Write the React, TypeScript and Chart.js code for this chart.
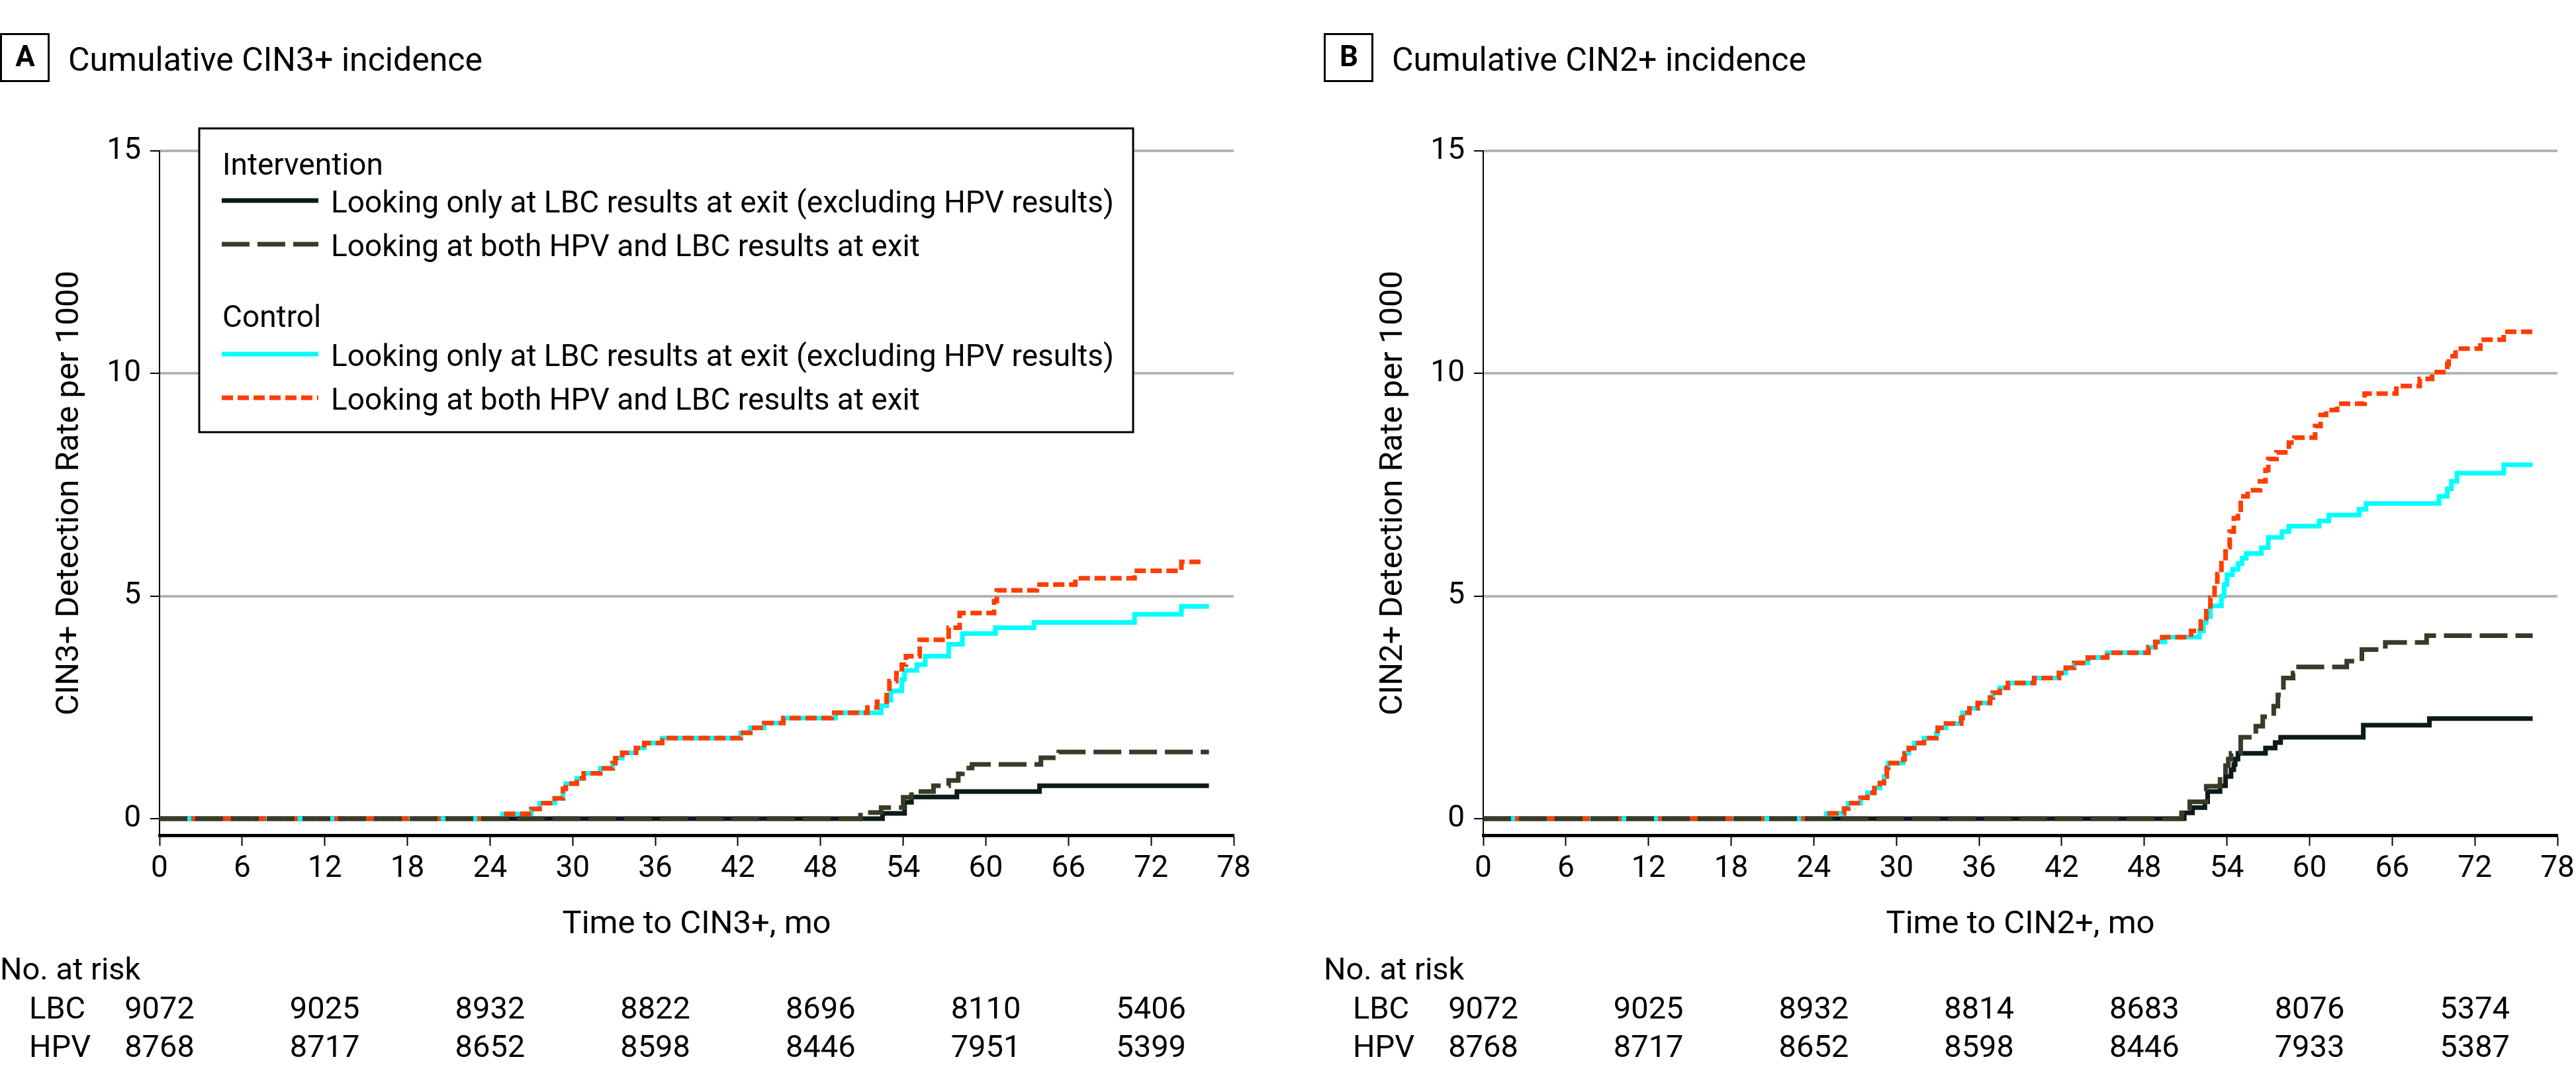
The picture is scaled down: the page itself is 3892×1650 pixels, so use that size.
import React, { useEffect, useRef } from 'react';
import { Chart, registerables } from 'chart.js';

Chart.register(...registerables);

const FONT = 'Roboto, "Noto Sans", sans-serif';

// ---------- data ----------
const X_MIN = 0;
const X_MAX = 78;
const X_STEP = 6;
const Y_MIN = -0.37;
const Y_MAX = 15;
const Y_TICKS = [0, 5, 10, 15];
const RISK_TIMES = [0, 12, 24, 36, 48, 60, 72];

// Panel A: CIN3+
const A_INT_LBC: [number, number][] = [
  [0, 0], [52.5, 0.12], [54.1, 0.37], [54.6, 0.49], [57.9, 0.61], [63.9, 0.74], [76.2, 0.74],
];
const A_INT_BOTH: [number, number][] = [
  [0, 0], [50.9, 0.14], [52.4, 0.25], [54.0, 0.48], [54.6, 0.61], [56.2, 0.74], [57.3, 0.86],
  [58.0, 1.01], [58.3, 1.14], [59.0, 1.22], [64.0, 1.37], [65.3, 1.5], [76.2, 1.5],
];
const A_CTL_LBC: [number, number][] = [
  [0, 0], [24.9, 0.11], [27.0, 0.22], [27.6, 0.35], [28.7, 0.46], [29.3, 0.67], [29.5, 0.79],
  [30.3, 0.91], [30.8, 1.02], [32.0, 1.13], [32.9, 1.25], [33.1, 1.36], [33.6, 1.48], [34.6, 1.59],
  [35.2, 1.7], [36.5, 1.81], [42.2, 1.93], [42.9, 2.04], [43.9, 2.15], [45.3, 2.26], [49.1, 2.38],
  [52.4, 2.54], [52.8, 2.66], [53.1, 2.87], [53.9, 3.13], [54.1, 3.33], [55.0, 3.46], [55.6, 3.65],
  [57.3, 3.92], [58.3, 4.16], [60.7, 4.29], [63.5, 4.41], [70.8, 4.59], [74.2, 4.77], [76.2, 4.77],
];
const A_CTL_BOTH: [number, number][] = [
  [0, 0], [24.9, 0.11], [27.0, 0.22], [27.6, 0.35], [28.7, 0.46], [29.3, 0.67], [29.5, 0.79],
  [30.3, 0.91], [30.8, 1.02], [32.0, 1.13], [32.9, 1.25], [33.1, 1.36], [33.6, 1.48], [34.6, 1.59],
  [35.2, 1.7], [36.5, 1.81], [42.2, 1.93], [42.9, 2.04], [43.9, 2.15], [45.3, 2.26], [48.8, 2.38],
  [51.4, 2.5], [52.1, 2.63], [52.8, 2.87], [53.0, 3.09], [53.5, 3.27], [53.9, 3.46], [54.2, 3.65],
  [55.2, 4.02], [57.3, 4.29], [58.1, 4.62], [60.6, 4.89], [60.8, 5.13], [63.7, 5.26], [66.5, 5.4],
  [70.8, 5.57], [74.2, 5.77], [75.9, 5.77],
];
const A_RISK_LBC = [9072, 9025, 8932, 8822, 8696, 8110, 5406];
const A_RISK_HPV = [8768, 8717, 8652, 8598, 8446, 7951, 5399];

// Panel B: CIN2+
const B_INT_LBC: [number, number][] = [
  [0, 0], [50.9, 0.13], [51.5, 0.25], [52.4, 0.38], [52.6, 0.61], [53.5, 0.74], [53.9, 0.95],
  [54.3, 1.1], [54.5, 1.22], [54.6, 1.34], [54.8, 1.47], [56.8, 1.59], [57.5, 1.71], [57.9, 1.83],
  [63.9, 2.1], [68.7, 2.25], [76.2, 2.25],
];
const B_INT_BOTH: [number, number][] = [
  [0, 0], [50.7, 0.13], [51.3, 0.38], [52.5, 0.73], [53.5, 0.95], [53.9, 1.19], [54.1, 1.34],
  [54.3, 1.47], [55.0, 1.83], [56.1, 2.08], [56.6, 2.29], [57.4, 2.53], [57.7, 2.78], [58.1, 3.16],
  [58.8, 3.27], [59.2, 3.41], [62.7, 3.54], [63.8, 3.8], [65.5, 3.96], [68.5, 4.11], [76.2, 4.11],
];
const B_CTL_LBC: [number, number][] = [
  [0, 0], [24.9, 0.12], [26.2, 0.23], [26.5, 0.35], [27.4, 0.47], [27.9, 0.58], [28.4, 0.69],
  [28.8, 0.8], [29.1, 0.95], [29.3, 1.14], [29.4, 1.25], [30.5, 1.34], [30.6, 1.47], [30.9, 1.59],
  [31.3, 1.7], [32.0, 1.81], [32.9, 1.92], [33.0, 2.04], [33.6, 2.14], [34.7, 2.26], [34.8, 2.38],
  [35.3, 2.48], [35.9, 2.6], [36.8, 2.72], [37.0, 2.83], [37.5, 2.94], [38.1, 3.05], [40.0, 3.16],
  [41.8, 3.27], [42.3, 3.39], [42.9, 3.5], [43.9, 3.62], [45.3, 3.73], [48.3, 3.85], [48.8, 3.97],
  [49.5, 4.08], [52.0, 4.22], [52.3, 4.41], [52.5, 4.54], [52.8, 4.78], [53.6, 5.0], [53.8, 5.26],
  [54.0, 5.48], [54.4, 5.6], [54.8, 5.73], [55.1, 5.85], [55.4, 5.96], [56.5, 6.09], [57.0, 6.32],
  [58.0, 6.45], [58.5, 6.57], [60.7, 6.69], [61.4, 6.82], [63.6, 6.95], [64.1, 7.08], [69.4, 7.24],
  [70.0, 7.41], [70.3, 7.58], [70.7, 7.76], [74.1, 7.95], [76.2, 7.95],
];
const B_CTL_BOTH: [number, number][] = [
  [0, 0], [24.9, 0.12], [26.2, 0.23], [26.5, 0.35], [27.4, 0.47], [27.9, 0.58], [28.4, 0.69],
  [28.8, 0.8], [29.1, 0.95], [29.3, 1.14], [29.4, 1.25], [30.5, 1.34], [30.6, 1.47], [30.9, 1.59],
  [31.3, 1.7], [32.0, 1.81], [32.9, 1.92], [33.0, 2.04], [33.6, 2.14], [34.7, 2.26], [34.8, 2.38],
  [35.3, 2.48], [35.9, 2.6], [36.8, 2.72], [37.0, 2.83], [37.5, 2.94], [38.1, 3.05], [40.0, 3.16],
  [41.8, 3.27], [42.3, 3.39], [42.9, 3.5], [43.9, 3.62], [45.3, 3.73], [48.3, 3.85], [48.8, 3.97],
  [49.3, 4.08], [51.4, 4.22], [52.1, 4.43], [52.5, 4.66], [52.8, 4.96], [53.1, 5.26], [53.3, 5.49],
  [53.6, 5.8], [53.9, 6.1], [54.2, 6.45], [54.5, 6.75], [54.8, 6.94], [55.0, 7.24], [55.5, 7.38],
  [56.4, 7.58], [56.8, 7.83], [57.0, 8.08], [57.6, 8.23], [58.5, 8.45], [58.9, 8.56], [60.4, 8.82],
  [60.8, 9.07], [61.2, 9.18], [62.0, 9.32], [64.0, 9.55], [66.3, 9.72], [68.0, 9.88], [68.9, 10.03],
  [70.0, 10.21], [70.1, 10.39], [70.6, 10.56], [72.4, 10.76], [74.1, 10.94], [76.2, 10.94],
];
const B_RISK_LBC = [9072, 9025, 8932, 8814, 8683, 8076, 5374];
const B_RISK_HPV = [8768, 8717, 8652, 8598, 8446, 7933, 5387];

// ---------- labels ----------
const LEGEND_GROUPS = ['Intervention', 'Control'];
const LABEL_LBC_ONLY = 'Looking only at LBC results at exit (excluding HPV results)';
const LABEL_BOTH = 'Looking at both HPV and LBC results at exit';

// ---------- styles ----------
const STYLE = {
  intLbc: { color: '#0c1a1a', dash: [] as number[], width: 7 },
  intBoth: { color: '#3b3a28', dash: [42, 12], width: 7 },
  ctlLbc: { color: '#00ffff', dash: [] as number[], width: 7 },
  ctlBoth: { color: '#ff3d00', dash: [17, 7], width: 7 },
};

type PanelCfg = {
  tag: string;
  title: string;
  xTitle: string;
  yTitle: string;
  intLbc: [number, number][];
  intBoth: [number, number][];
  ctlLbc: [number, number][];
  ctlBoth: [number, number][];
  riskLbc: number[];
  riskHpv: number[];
  legend: boolean;
  padLeft: number;
  padRight: number;
};

function drawLegend(ctx: CanvasRenderingContext2D) {
  const bx = 301, by = 194, bw = 1411, bh = 459;
  ctx.fillStyle = '#fff';
  ctx.fillRect(bx, by, bw, bh);
  ctx.strokeStyle = '#000';
  ctx.lineWidth = 3;
  ctx.setLineDash([]);
  ctx.strokeRect(bx, by, bw, bh);
  ctx.font = `46px ${FONT}`;
  ctx.fillStyle = '#000';
  ctx.textAlign = 'left';
  ctx.textBaseline = 'alphabetic';
  const rows: { kind: 'head' | 'line'; text: string; base: number; style?: { color: string; dash: number[]; width: number } }[] = [
    { kind: 'head', text: LEGEND_GROUPS[0], base: 264 },
    { kind: 'line', text: LABEL_LBC_ONLY, base: 321, style: STYLE.intLbc },
    { kind: 'line', text: LABEL_BOTH, base: 387, style: STYLE.intBoth },
    { kind: 'head', text: LEGEND_GROUPS[1], base: 494 },
    { kind: 'line', text: LABEL_LBC_ONLY, base: 553, style: STYLE.ctlLbc },
    { kind: 'line', text: LABEL_BOTH, base: 619, style: STYLE.ctlBoth },
  ];
  rows.forEach((r) => {
    if (r.kind === 'head') {
      ctx.fillText(r.text, 336, r.base);
    } else {
      const s = r.style!;
      ctx.save();
      ctx.strokeStyle = s.color;
      ctx.lineWidth = s.width;
      ctx.setLineDash(s.dash);
      ctx.lineCap = 'butt';
      ctx.beginPath();
      ctx.moveTo(335, r.base - 18);
      ctx.lineTo(481, r.base - 18);
      ctx.stroke();
      ctx.restore();
      ctx.fillStyle = '#000';
      ctx.fillText(r.text, 500, r.base);
    }
  });
}

function makeOverlay(cfg: PanelCfg) {
  return {
    id: 'overlay' + cfg.tag,
    afterDraw(chart: any) {
      const ctx: CanvasRenderingContext2D = chart.ctx;
      const xs = chart.scales.x;
      const bx = chart.chartArea.left - 241;
      ctx.save();
      // panel tag
      ctx.strokeStyle = '#000';
      ctx.lineWidth = 3;
      ctx.strokeRect(bx + 1.5, 51.5, 72, 71);
      ctx.fillStyle = '#000';
      ctx.font = `bold 44px ${FONT}`;
      ctx.textAlign = 'center';
      ctx.textBaseline = 'middle';
      ctx.fillText(cfg.tag, bx + 38, 89);
      ctx.font = `50px ${FONT}`;
      ctx.textAlign = 'left';
      ctx.textBaseline = 'alphabetic';
      ctx.fillText(cfg.title, bx + 103, 107);
      // risk table
      ctx.font = `47px ${FONT}`;
      ctx.fillText('No. at risk', bx, 1480);
      ctx.fillText('LBC', bx + 44, 1539);
      ctx.fillText('HPV', bx + 44, 1597);
      ctx.textAlign = 'center';
      RISK_TIMES.forEach((t, i) => {
        const px = xs.getPixelForValue(t);
        ctx.fillText(String(cfg.riskLbc[i]), px, 1539);
        ctx.fillText(String(cfg.riskHpv[i]), px, 1597);
      });
      if (cfg.legend) drawLegend(ctx);
      ctx.restore();
    },
  };
}

function ds(data: [number, number][], s: { color: string; dash: number[]; width: number }) {
  return {
    data: data.map(([x, y]) => ({ x, y })),
    borderColor: s.color,
    backgroundColor: s.color,
    borderWidth: s.width,
    borderDash: s.dash,
    stepped: true,
    pointRadius: 0,
    fill: false,
    tension: 0,
  };
}

function buildChart(canvas: HTMLCanvasElement, cfg: PanelCfg) {
  return new Chart(canvas, {
    type: 'line',
    data: {
      datasets: [
        ds(cfg.intBoth, STYLE.intBoth),
        ds(cfg.ctlBoth, STYLE.ctlBoth),
        ds(cfg.ctlLbc, STYLE.ctlLbc),
        ds(cfg.intLbc, STYLE.intLbc),
      ] as any,
    },
    options: {
      responsive: false,
      animation: false,
      devicePixelRatio: 1,
      layout: { padding: { left: cfg.padLeft, right: cfg.padRight, top: 228, bottom: 188 } },
      plugins: { legend: { display: false }, tooltip: { enabled: false }, title: { display: false } },
      scales: {
        x: {
          type: 'linear',
          min: X_MIN,
          max: X_MAX,
          ticks: { stepSize: X_STEP, font: { family: FONT, size: 46 }, color: '#000', padding: 8, maxRotation: 0, autoSkip: false },
          grid: { drawOnChartArea: false, drawTicks: true, tickLength: 16, tickWidth: 2, tickColor: '#000' },
          border: { display: true, color: '#000', width: 5 },
          title: { display: true, text: cfg.xTitle, color: '#000', font: { family: FONT, size: 49 }, padding: { top: 0, bottom: 35 } },
          afterFit: (s: any) => { s.height = 200; s.paddingLeft = 0; s.paddingRight = 0; },
        },
        y: {
          type: 'linear',
          min: Y_MIN,
          max: Y_MAX,
          afterBuildTicks: (s: any) => { s.ticks = Y_TICKS.map((v) => ({ value: v })); },
          ticks: { font: { family: FONT, size: 46 }, color: '#000', padding: 14 },
          grid: {
            color: (c: any) => (c.tick && c.tick.value === 0 ? 'rgba(0,0,0,0)' : '#b4b4b4'),
            lineWidth: 4,
            drawTicks: true,
            tickLength: 14,
            tickWidth: 2,
            tickColor: '#000',
          },
          border: { display: true, color: '#000', width: 2 },
          title: { display: true, text: cfg.yTitle, color: '#000', font: { family: FONT, size: 49 }, padding: { top: 76, bottom: 0 } },
          afterFit: (s: any) => { s.width = 241; s.paddingTop = 0; s.paddingBottom = 0; },
        },
      },
    } as any,
    plugins: [makeOverlay(cfg)],
  });
}

const PANEL_A: PanelCfg = {
  tag: 'A',
  title: 'Cumulative CIN3+ incidence',
  xTitle: 'Time to CIN3+, mo',
  yTitle: 'CIN3+ Detection Rate per 1000',
  intLbc: A_INT_LBC,
  intBoth: A_INT_BOTH,
  ctlLbc: A_CTL_LBC,
  ctlBoth: A_CTL_BOTH,
  riskLbc: A_RISK_LBC,
  riskHpv: A_RISK_HPV,
  legend: true,
  padLeft: 0,
  padRight: 82,
};

const PANEL_B: PanelCfg = {
  tag: 'B',
  title: 'Cumulative CIN2+ incidence',
  xTitle: 'Time to CIN2+, mo',
  yTitle: 'CIN2+ Detection Rate per 1000',
  intLbc: B_INT_LBC,
  intBoth: B_INT_BOTH,
  ctlLbc: B_CTL_LBC,
  ctlBoth: B_CTL_BOTH,
  riskLbc: B_RISK_LBC,
  riskHpv: B_RISK_HPV,
  legend: false,
  padLeft: 54,
  padRight: 28,
};

export default function App() {
  const refA = useRef<HTMLCanvasElement>(null);
  const refB = useRef<HTMLCanvasElement>(null);

  useEffect(() => {
    const ca = buildChart(refA.current!, PANEL_A);
    const cb = buildChart(refB.current!, PANEL_B);
    return () => {
      ca.destroy();
      cb.destroy();
    };
  }, []);

  return (
    <div style={{ position: 'fixed', left: 0, top: 0, width: 3892, height: 1650, background: '#fff', overflow: 'hidden' }}>
      <canvas ref={refA} width={1946} height={1650} style={{ position: 'absolute', left: 0, top: 0, width: 1946, height: 1650 }} />
      <canvas ref={refB} width={1946} height={1650} style={{ position: 'absolute', left: 1946, top: 0, width: 1946, height: 1650 }} />
    </div>
  );
}
